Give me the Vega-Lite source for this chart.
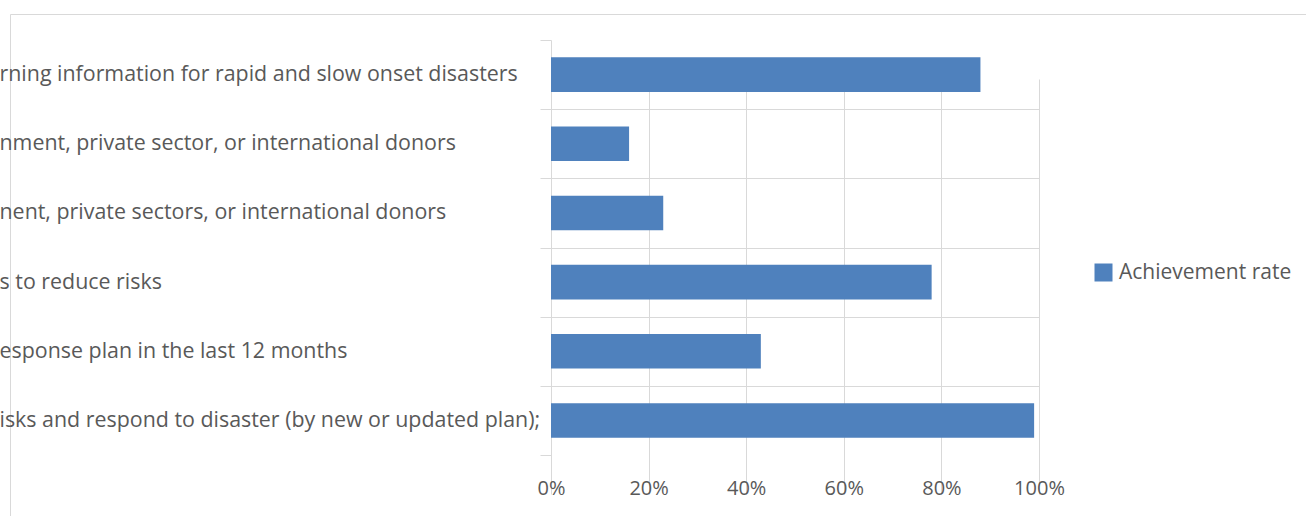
{
  "$schema": "https://vega.github.io/schema/vega-lite/v6.json",
  "width": 1300,
  "height": 506,
  "autosize": {"type": "none"},
  "padding": {"left": 10, "top": 14, "right": 0, "bottom": 0},
  "background": "white",
  "config": {
    "view": {"stroke": "#d9d9d9", "strokeWidth": 1},
    "font": "Open Sans"
  },
  "data": {
    "values": [
      {"category": "rning information for rapid and slow onset disasters", "rate": 0.88, "series": "Achievement rate"},
      {"category": "nment, private sector, or international donors", "rate": 0.16, "series": "Achievement rate"},
      {"category": "nent, private sectors, or international donors", "rate": 0.23, "series": "Achievement rate"},
      {"category": "s to reduce risks", "rate": 0.78, "series": "Achievement rate"},
      {"category": "esponse plan in the last 12 months", "rate": 0.43, "series": "Achievement rate"},
      {"category": "isks and respond to disaster (by new or updated plan);", "rate": 0.99, "series": "Achievement rate"}
    ]
  },
  "mark": {"type": "bar", "height": {"band": 0.5}},
  "encoding": {
    "y": {
      "field": "category",
      "type": "nominal",
      "sort": null,
      "scale": {"range": [26, 441], "paddingInner": 0, "paddingOuter": 0},
      "axis": {
        "title": null,
        "orient": "left",
        "offset": -541,
        "domainColor": "#d9d9d9",
        "tickColor": "#d9d9d9",
        "tickSize": 11,
        "tickBand": "extent",
        "grid": true,
        "gridColor": "#d9d9d9",
        "gridOpacity": {"condition": {"test": "datum.index === -1 || datum.index === 1", "value": 0}, "value": 1},
        "labelAlign": "left",
        "labelPadding": 541,
        "labelLimit": 0,
        "labelFontSize": 21.4,
        "labelColor": "#595959"
      }
    },
    "x": {
      "field": "rate",
      "type": "quantitative",
      "scale": {"domain": [0, 1], "range": [541, 1029], "nice": false},
      "axis": {
        "title": null,
        "format": ".0%",
        "values": [0, 0.2, 0.4, 0.6, 0.8, 1],
        "offset": -65,
        "domain": false,
        "ticks": false,
        "tickSize": 0,
        "grid": true,
        "gridColor": "#d9d9d9",
        "labelFlush": false,
        "labelPadding": 23,
        "labelFontSize": 20,
        "labelColor": "#595959"
      }
    },
    "color": {
      "field": "series",
      "type": "nominal",
      "scale": {"range": ["#4f81bd"]},
      "legend": {
        "title": null,
        "orient": "none",
        "legendX": 1083,
        "legendY": 248,
        "symbolType": "square",
        "symbolSize": 324,
        "symbolStrokeWidth": 0,
        "labelOffset": 5,
        "labelLimit": 0,
        "labelFontSize": 21,
        "labelColor": "#595959"
      }
    }
  }
}
